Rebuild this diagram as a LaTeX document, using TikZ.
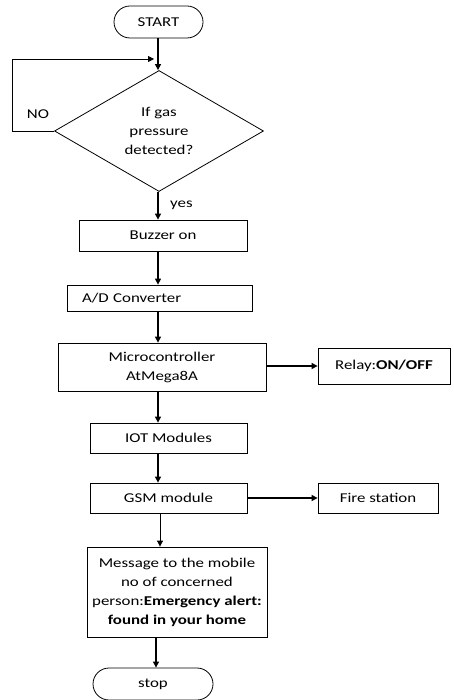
\documentclass[tikz,border=0pt]{standalone}
\usepackage{fontspec}
\setmainfont{Carlito}[FakeStretch=1.25]
\usetikzlibrary{shapes.geometric,arrows.meta}

\begin{document}
\begin{tikzpicture}[x=1pt,y=-1pt]
\tikzstyle{every node}=[font=\fontsize{13.5}{19}\selectfont,inner sep=0pt]
\tikzstyle{box}=[draw,line width=0.8pt,rectangle]
\tikzstyle{term}=[draw,line width=0.8pt,rectangle,rounded corners=16pt]
\tikzstyle{arr}=[line width=1.2pt,-{Triangle[length=6pt,width=6pt]}]

\useasboundingbox (0,0) rectangle (453,700);

% spine of the flow
\coordinate (axis) at (158,0);

\node[term,minimum width=89pt,minimum height=32pt] (start) at (158.5,22) {START};

\node[draw,line width=0.8pt,diamond,aspect=1.76,minimum width=209pt,minimum height=121pt,
  align=center] (test) at (159,131) {If gas\\pressure\\detected?};

\node[box,minimum width=168pt,minimum height=31pt] (buzz) at (163,235.5) {Buzzer on};

\node[box,minimum height=26pt,text width=155pt,inner xsep=15pt,align=left] (adc) at (159.5,298)
  {A/D Converter};

\node[box,minimum width=208pt,minimum height=48pt,align=center] (mcu) at (162,367)
  {Microcontroller\\AtMega8A};
\node[box,minimum width=132pt,minimum height=36pt] (relay) at (384,366) {Relay:\textbf{ON/OFF}};

\node[box,minimum width=157pt,minimum height=30pt] (iot) at (168.5,438) {IOT Modules};
\node[box,minimum width=157pt,minimum height=30pt] (gsm) at (168.5,498) {GSM module};
\node[box,minimum width=120pt,minimum height=30pt] (fire) at (378,498) {Fire station};

\node[box,minimum width=180pt,minimum height=90pt,align=center] (msg) at (177,592)
  {Message to the mobile\\no of concerned\\person:\textbf{Emergency alert:}\\\textbf{found in your home}};

\node[term,minimum width=120pt,minimum height=32pt] (stop) at (153,684) {stop};

% labels of the test
\node (no) at (38,114) {NO};
\node[anchor=west] (yes) at (170,205) {yes};

% loop back on NO
\coordinate (loopc) at (12,59);
\coordinate (loopend) at (154,59);
\draw[line width=0.8pt,-{Triangle[length=6pt,width=6pt]}] (test.west) -| (loopc) -- (loopend);

\draw[arr] (start.south -| axis) -- (test.north -| axis);
\draw[arr] (test.south -| axis) -- (buzz.north -| axis);
\draw[arr] (buzz.south -| axis) -- (adc.north -| axis);
\draw[arr] (adc.south -| axis) -- (mcu.north -| axis);
\draw[arr] (mcu.south -| axis) -- (iot.north -| axis);
\draw[arr] (iot.south -| axis) -- (gsm.north -| axis);
\draw[line width=0.8pt,-{Triangle[length=6pt,width=6pt]}] ([xshift=2pt]gsm.south -| axis) -- ([xshift=2pt]msg.north -| axis);
\draw[arr] ([xshift=-2pt]msg.south -| axis) -- ([xshift=-2pt]stop.north -| axis);

\draw[arr] (mcu.east |- relay.west) -- (relay.west);
\draw[arr] (gsm.east) -- (fire.west);

\end{tikzpicture}
\end{document}
